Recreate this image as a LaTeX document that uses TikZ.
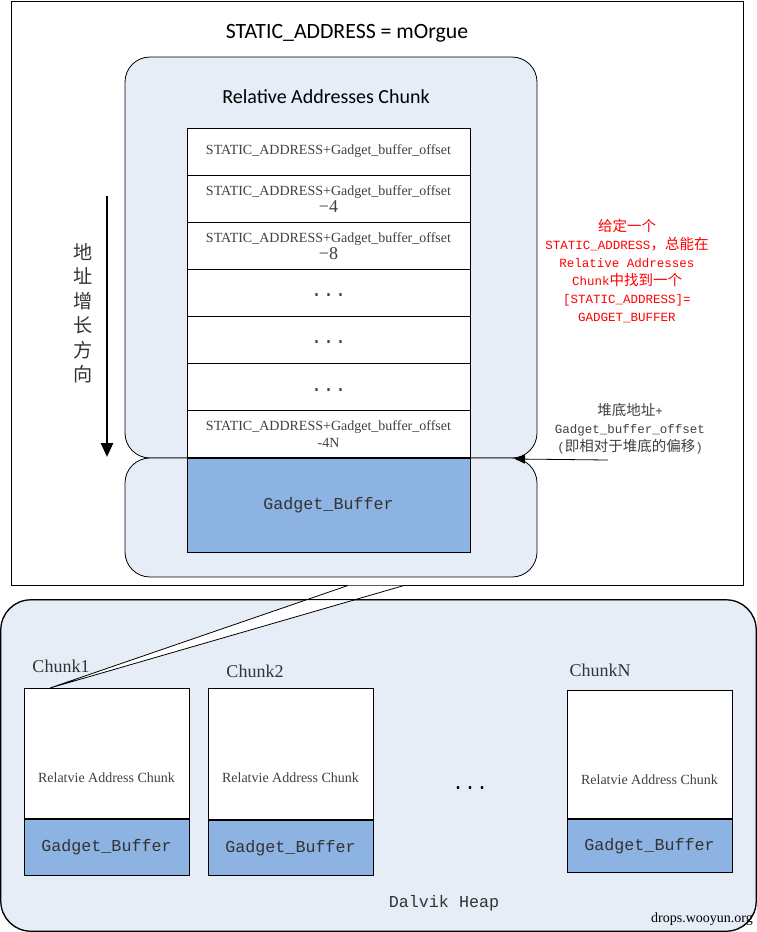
\documentclass[tikz,border=0pt]{standalone}
\usepackage{fontspec}
\usepackage{tikz}
\usetikzlibrary{positioning,arrows.meta}
\setmainfont{Liberation Serif}
\newfontfamily\calfont{Carlito}
\newfontfamily\ttmono{Liberation Mono}
\newfontfamily\zhfont[Scale=1.16]{Noto Sans CJK SC}
\definecolor{chunkblue}{RGB}{230,237,247}
\definecolor{bufblue}{RGB}{141,179,226}
\definecolor{notered}{RGB}{255,0,0}
\definecolor{notegray}{RGB}{64,64,64}

\begin{document}
\begin{tikzpicture}[x=1pt,y=-1pt,line width=0.8pt,
  roundbox/.style={draw, fill=chunkblue, rounded corners=25pt, inner sep=0pt},
  cell/.style={draw, fill=white, minimum width=283pt, minimum height=47.1pt, inner sep=0pt, align=center, font=\fontsize{14}{17}\selectfont, text=notegray},
  bufbox/.style={draw, fill=bufblue, inner sep=0pt, font=\ttmono\fontsize{16.7}{18}\selectfont, text=black!80},
  chunkbox/.style={draw, fill=white, minimum width=165pt, inner sep=0pt}]
\useasboundingbox (0,0) rectangle (757,932);

% Memory image with the relative addresses chunk
\node[draw, minimum width=732pt, minimum height=584pt, inner sep=0pt] (mem) at (377,293) {};
\node[font=\calfont\fontsize{21.8}{24}\selectfont] (title) at (347,33) {STATIC\_ADDRESS = mOrgue};
\node[roundbox, minimum width=412pt, minimum height=401pt] (relbox) at (331,257.5) {};
\node[roundbox, minimum width=412pt, minimum height=119pt] (basebox) at (331,517.5) {};
\node[font=\calfont\fontsize{20}{24}\selectfont] (rellabel) at (326,97) {Relative Addresses Chunk};

\foreach \i/\txt in {1/{STATIC\_ADDRESS+Gadget\_buffer\_offset},
    2/{STATIC\_ADDRESS+Gadget\_buffer\_offset\\{\fontsize{18}{17}\selectfont −4}},
    3/{STATIC\_ADDRESS+Gadget\_buffer\_offset\\{\fontsize{18}{17}\selectfont −8}},
    4/{\ttmono\fontsize{20}{20}\selectfont\raisebox{-4pt}[0pt][0pt]{...}},
    5/{\ttmono\fontsize{20}{20}\selectfont\raisebox{-4pt}[0pt][0pt]{...}},
    6/{\ttmono\fontsize{20}{20}\selectfont\raisebox{-4pt}[0pt][0pt]{...}},
    7/{STATIC\_ADDRESS+Gadget\_buffer\_offset\\-4N}} {
  \node[cell] (cell\i) at (328.5,104.4+47.1*\i) {\txt};
}
\node[bufbox, minimum width=283pt, minimum height=94pt] (gbuf) at (328.5,505) {Gadget\_Buffer};

% Growth direction
\coordinate (dirtop) at (107,196);
\coordinate (dirbot) at (107,457);
\draw[line width=2.5pt, -{Triangle[length=14pt,width=12pt]}] (dirtop) -- (dirbot);
\node[font=\zhfont\fontsize{16.5}{24.5}\selectfont, align=center, text=black!80] (dirlabel) at (83,313) {地\\址\\增\\长\\方\\向};

% Notes on the right
\node[font=\ttmono\fontsize{12.5}{18}\selectfont, text=notered, align=center] (hint) at (627,271.5)
  {{\zhfont 给定一个}\\STATIC\_ADDRESS{\zhfont ，总能在}\\Relative Addresses\\Chunk{\zhfont 中找到一个}\\{[}STATIC\_ADDRESS{]}=\\GADGET\_BUFFER};
\node[font=\ttmono\fontsize{12.5}{18}\selectfont, text=notegray, align=center] (basenote) at (630,429)
  {{\zhfont 堆底地址}+\\Gadget\_buffer\_offset\\({\zhfont 即相对于堆底的偏移})};
\coordinate (notetail) at (608,460);
\coordinate (basept) at (515,459);
\draw[-{Triangle[length=10pt,width=9pt]}] (notetail) -- (basept);

% Dalvik heap
\node[roundbox, rounded corners=30pt, minimum width=755pt, minimum height=331pt] (heap) at (378.5,765.5) {};
\coordinate (wl) at (348,585.5);
\coordinate (wr) at (404,585.5);
\coordinate (wtip) at (50,688);
\fill[white] (wl) -- (wr) -- (wtip) -- cycle;
\draw[rounded corners=30pt] (heap.north west) rectangle (heap.south east);
\draw (wl) -- (wtip) (wr) -- (wtip);

\foreach \nm/\cx/\ty/\th/\bh/\lx/\ly in {1/106.5/688/130/56/61/666, 2/290.5/688/131/55/255/671, N/649.5/690/128/53/600/670} {
  \node[chunkbox, minimum height=\th pt, anchor=north] (top\nm) at (\cx,\ty) {};
  \node[bufbox, minimum width=165pt, minimum height=\bh pt, below=0pt of top\nm] (buf\nm) {Gadget\_Buffer};
  \node[font=\fontsize{14}{17}\selectfont, text=notegray] (txt\nm) at (\cx,\ty+90) {Relatvie Address Chunk};
  \node[font=\fontsize{18}{20}\selectfont, text=black!80] (lbl\nm) at (\lx,\ly) {Chunk\nm};
}
\node[font=\ttmono\fontsize{20}{20}\selectfont] (hdots) at (470,788) {...};
\node[font=\ttmono\fontsize{16.7}{20}\selectfont, text=black!80] (heaplabel) at (444,903) {Dalvik Heap};
\node[font=\fontsize{14}{16}\selectfont] (wm) at (702,919) {drops.wooyun.org};
\end{tikzpicture}
\end{document}
